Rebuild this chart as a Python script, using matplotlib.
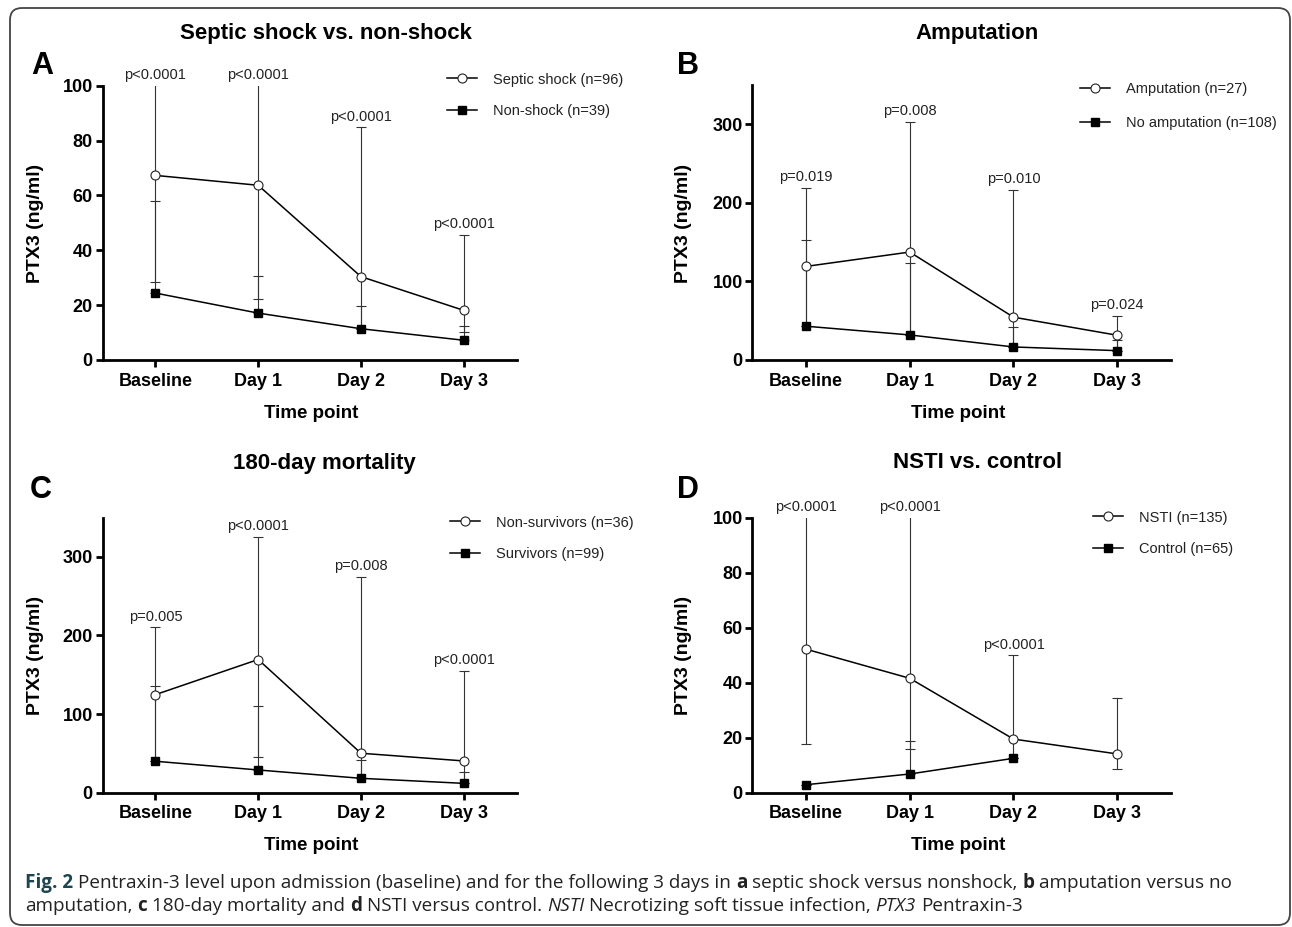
import numpy as np
import matplotlib
matplotlib.use("Agg")
import matplotlib.pyplot as plt
from matplotlib.patches import FancyBboxPatch

plt.rcParams['font.family'] = 'Liberation Sans'

W, H = 1292, 927

# --- data (medians with upper / lower whisker ends)
time_points = ["Baseline", "Day 1", "Day 2", "Day 3"]

# A: septic shock vs non-shock
a_shock_med = [67.3, 63.7, 30.4, 18.1]
a_shock_lo = [28.6, 22.2, 11.4, 10.1]
a_shock_hi = [115.0, 115.0, 84.8, 45.6]
a_non_med = [24.4, 17.1, 11.4, 7.2]
a_non_lo = [24.4, 17.1, 11.4, 7.2]
a_non_hi = [58.1, 30.6, 19.7, 12.4]
a_pvals = ["p<0.0001", "p<0.0001", "p<0.0001", "p<0.0001"]

# B: amputation
b_amp_med = [119.1, 137.4, 54.5, 31.5]
b_amp_lo = [43.0, 31.9, 16.6, 11.9]
b_amp_hi = [219.0, 303.0, 217.0, 56.2]
b_no_med = [43.0, 31.9, 16.6, 11.9]
b_no_lo = [43.0, 31.9, 16.6, 11.9]
b_no_hi = [153.0, 123.4, 41.7, 25.5]
b_pvals = ["p=0.019", "p=0.008", "p=0.010", "p=0.024"]

# C: 180-day mortality
c_dead_med = [124.7, 169.4, 50.2, 40.4]
c_dead_lo = [40.0, 45.1, 18.3, 11.9]
c_dead_hi = [210.6, 325.5, 274.5, 154.9]
c_surv_med = [40.0, 28.9, 18.3, 11.9]
c_surv_lo = [40.0, 28.9, 18.3, 11.9]
c_surv_hi = [135.3, 110.6, 41.7, 26.4]
c_pvals = ["p=0.005", "p<0.0001", "p=0.008", "p<0.0001"]

# D: NSTI vs control
d_nsti_med = [52.2, 41.6, 19.5, 14.1]
d_nsti_lo = [17.7, 15.8, 12.5, 8.8]
d_nsti_hi = [115.0, 115.0, 49.9, 34.4]
d_ctrl_med = [2.9, 6.8, 12.5, np.nan]
d_ctrl_lo = [2.9, 6.8, 12.5, np.nan]
d_ctrl_hi = [2.9, 18.7, 12.5, np.nan]
d_pvals = ["p<0.0001", "p<0.0001", "p<0.0001", ""]


def px_axes(fig, x0, y0, x1, y1):
    return fig.add_axes([x0 / W, 1 - y1 / H, (x1 - x0) / W, (y1 - y0) / H])


def whiskers(ax, med, lo, hi):
    med, lo, hi = np.array(med), np.array(lo), np.array(hi)
    x = np.arange(len(med))
    ok = np.isfinite(med)
    ax.errorbar(x[ok], med[ok], yerr=[med[ok] - lo[ok], hi[ok] - med[ok]],
                fmt='none', ecolor='#333333', elinewidth=0.8, capsize=3.3,
                capthick=0.8, zorder=2)


def draw_panel(ax, up, dn, labels, pvals, ymax, yticks, anchor, spacing):
    x = np.arange(len(time_points))
    whiskers(ax, *up)
    whiskers(ax, *dn)
    ax.plot(x, up[0], '-o', color='black', mfc='white', mec='#222222',
            ms=6.5, mew=0.8, lw=1.1, label=labels[0], zorder=3)
    ax.plot(x, dn[0], '-s', color='black', ms=6, lw=1.1, label=labels[1],
            zorder=3)

    for i, p in enumerate(pvals):
        if p:
            top = min(up[2][i], ymax)
            ax.annotate(p, (x[i], top), xytext=(0, 2.5),
                        textcoords='offset points', ha='center', va='bottom',
                        fontsize=10.5, color='#222222')

    ax.set_xlim(-0.515, 3.515)
    ax.set_ylim(0, ymax)
    ax.set_xticks(x)
    ax.set_xticklabels(time_points)
    ax.set_yticks(yticks)
    for s in ['top', 'right']:
        ax.spines[s].set_visible(False)
    for s in ['left', 'bottom']:
        ax.spines[s].set_linewidth(2)
    ax.tick_params(direction='out', length=5, width=2, labelsize=13)
    ax.tick_params(axis='x', pad=4)
    ax.tick_params(axis='y', pad=2)
    for lbl in ax.get_xticklabels() + ax.get_yticklabels():
        lbl.set_fontweight('bold')

    ax.legend(loc='upper left', bbox_to_anchor=anchor, frameon=False,
              fontsize=10.5, handlelength=2.05, handletextpad=1.1,
              labelspacing=spacing, borderpad=0, borderaxespad=0,
              labelcolor='#222222')


def fig_text(fig, x, y, s, **kw):
    fig.text(x / W, 1 - y / H, s, ha='center', va='center', **kw)


fig = plt.figure(figsize=(W / 100, H / 100), dpi=100)

# rounded border around the figure panels
fig.patches.append(FancyBboxPatch((0.10, 0.02), 12.80, 9.17,
                                  boxstyle="round,pad=0,rounding_size=0.12",
                                  transform=fig.dpi_scale_trans,
                                  fill=False, ec='#444444', lw=1.3))

axA = px_axes(fig, 102.5, 85.7, 516.6, 360)
axB = px_axes(fig, 752.5, 85.0, 1170.7, 360)
axC = px_axes(fig, 102.5, 517.5, 516.6, 792.7)
axD = px_axes(fig, 752.5, 517.7, 1170.7, 792.7)

draw_panel(axA, (a_shock_med, a_shock_lo, a_shock_hi),
           (a_non_med, a_non_lo, a_non_hi),
           ["Septic shock (n=96)", "Non-shock (n=39)"], a_pvals,
           100, [0, 20, 40, 60, 80, 100], (0.832, 1.048), 1.18)
draw_panel(axB, (b_amp_med, b_amp_lo, b_amp_hi),
           (b_no_med, b_no_lo, b_no_hi),
           ["Amputation (n=27)", "No amputation (n=108)"], b_pvals,
           350, [0, 100, 200, 300], (0.783, 1.01), 1.37)
draw_panel(axC, (c_dead_med, c_dead_lo, c_dead_hi),
           (c_surv_med, c_surv_lo, c_surv_hi),
           ["Non-survivors (n=36)", "Survivors (n=99)"], c_pvals,
           350, [0, 100, 200, 300], (0.839, 1.007), 1.18)
draw_panel(axD, (d_nsti_med, d_nsti_lo, d_nsti_hi),
           (d_ctrl_med, d_ctrl_lo, d_ctrl_hi),
           ["NSTI (n=135)", "Control (n=65)"], d_pvals,
           100, [0, 20, 40, 60, 80, 100], (0.814, 1.026), 1.17)

# titles, panel letters, axis labels
titles = ["Septic shock vs. non-shock", "Amputation", "180-day mortality",
          "NSTI vs. control"]
letters = ["A", "B", "C", "D"]
title_pos = [(325.7, 33), (977, 33), (324.6, 463), (978, 463)]
letter_pos = [(42.5, 66), (688, 66), (40.5, 490), (688.4, 490)]
ylab_pos = [(35, 223), (683, 223), (35, 655), (683, 655)]
xlab_pos = [(311, 413), (958, 413), (311, 845), (958, 845)]

for i in range(4):
    fig_text(fig, *title_pos[i], titles[i], fontsize=16, fontweight='bold')
    fig_text(fig, *letter_pos[i], letters[i], fontsize=22, fontweight='bold')
    fig_text(fig, *ylab_pos[i], "PTX3 (ng/ml)", fontsize=14,
             fontweight='bold', rotation=90)
    fig_text(fig, *xlab_pos[i], "Time point", fontsize=13.5,
             fontweight='bold')

# caption, drawn piece by piece so bold / italic words sit inline
cap1 = [("Fig. 2", dict(fontweight='bold', color='#1c4550')),
        ("Pentraxin-3 level upon admission (baseline) and for the following "
         "3 days in", {}),
        ("a", dict(fontweight='bold')),
        ("septic shock versus nonshock,", {}),
        ("b", dict(fontweight='bold')),
        ("amputation versus no", {})]
cap2 = [("amputation,", {}),
        ("c", dict(fontweight='bold')),
        ("180-day mortality and", {}),
        ("d", dict(fontweight='bold')),
        ("NSTI versus control.", {}),
        ("NSTI", dict(style='italic')),
        ("Necrotizing soft tissue infection,", {}),
        ("PTX3", dict(style='italic')),
        ("Pentraxin-3", {})]


def caption_line(segments, x0, y, size):
    renderer = fig.canvas.get_renderer()
    space = 0.26 * size * 100 / 72
    x = x0
    texts = []
    for s, kw in segments:
        kw = dict(kw)
        color = kw.pop('color', '#222222')
        t = fig.text(x / W, 1 - y / H, s, fontsize=size, family='Open Sans',
                     ha='left', va='baseline', color=color, **kw)
        texts.append(t)
        x += t.get_window_extent(renderer).width + space
    return texts, x - space - x0


texts, width = caption_line(cap1, 25, 888, 12)
for t in texts:
    t.remove()
size = 12 * (1222 - 25) / width
caption_line(cap1, 25, 888, size)
caption_line(cap2, 25, 911, size)

fig.savefig("out.png", dpi=100)
